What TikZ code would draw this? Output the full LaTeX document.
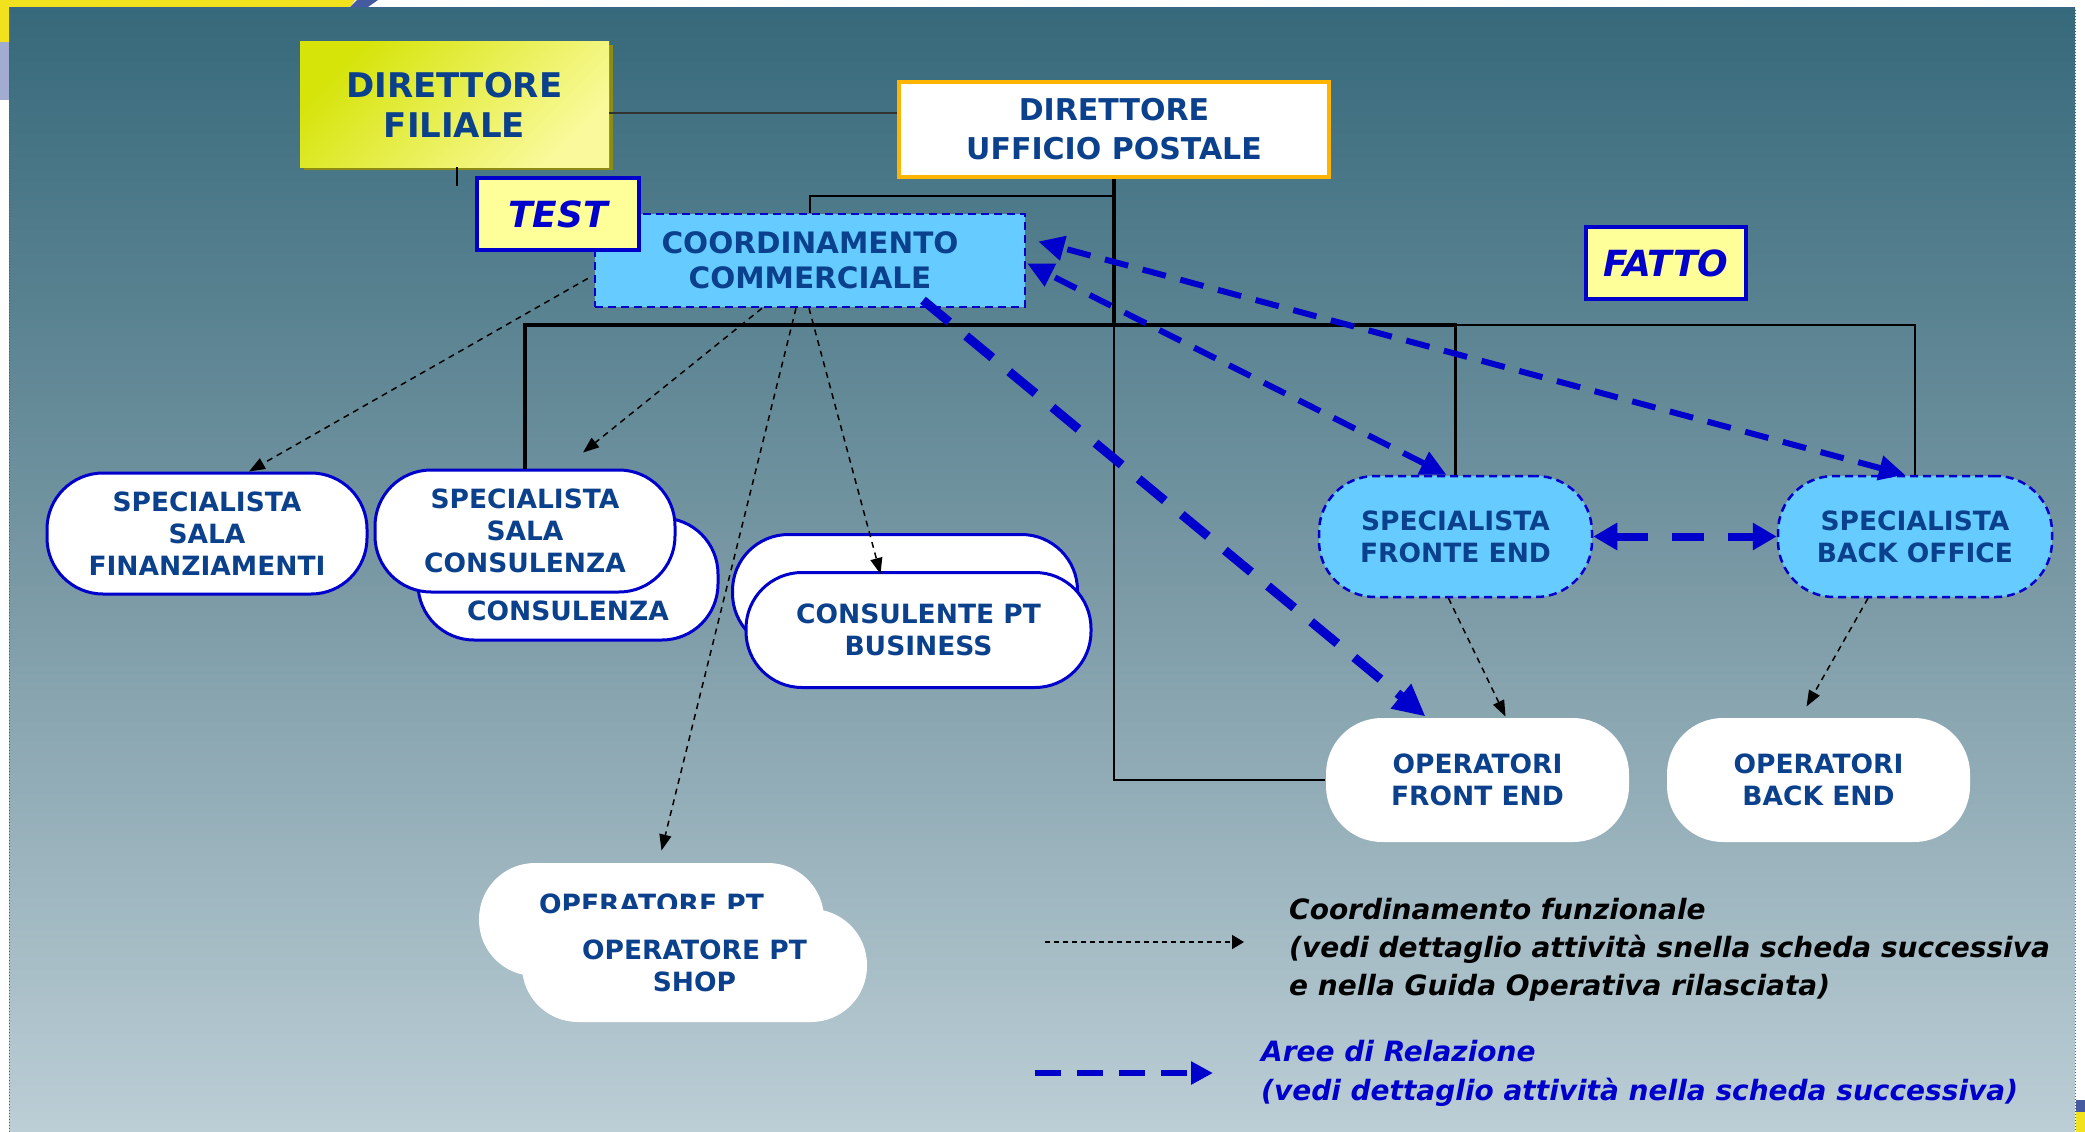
\documentclass[tikz,border=0pt]{standalone}
\usepackage{fontspec}
\setmainfont{DejaVu Sans}[BoldFont={DejaVu Sans Bold},ItalicFont={DejaVu Sans Oblique},BoldItalicFont={DejaVu Sans Bold Oblique}]
\usetikzlibrary{arrows.meta,calc,shadows}
\definecolor{txtblue}{RGB}{10,64,140}
\definecolor{lnblue}{RGB}{0,0,204}
\definecolor{cyanfill}{RGB}{102,204,255}
\definecolor{paleyel}{RGB}{255,255,153}
\definecolor{orangeb}{RGB}{255,180,0}
\definecolor{bgtop}{RGB}{54,105,123}
\definecolor{bgmid}{RGB}{120,152,164}
\definecolor{bgbot}{RGB}{188,206,214}
\definecolor{dfA}{RGB}{214,228,10}
\definecolor{dfB}{RGB}{250,250,156}
\definecolor{dfsh}{RGB}{140,140,20}
\definecolor{framey}{RGB}{242,226,30}
\definecolor{frameb}{RGB}{70,90,160}
\definecolor{darkln}{RGB}{50,50,50}
\newcommand\myfs[2]{\fontsize{#1}{#2}\selectfont}
\begin{document}
\begin{tikzpicture}[x=1pt,y=-1pt,
  base/.style={inner sep=0pt, align=center, text=txtblue},
  whitebox/.style={base, rectangle, rounded corners=56pt, fill=white, draw=lnblue, line width=3pt, font=\bfseries\myfs{26.5}{32}},
  whiteplain/.style={whitebox, draw=none},
  cyanbox/.style={whitebox, fill=cyanfill, dash pattern=on 8pt off 5pt, line width=2.5pt},
  tag/.style={base, rectangle, fill=paleyel, draw=lnblue, line width=4pt, text=lnblue, font=\bfseries\itshape\myfs{36}{40}},
  thickln/.style={line width=3.5pt, black},
  thinln/.style={line width=1.5pt, black},
  blacktip/.tip={Triangle[length=16pt,width=12pt]},
  bluetip/.tip={Triangle[length=26pt,width=24pt]},
  blackarr/.style={black, line width=1.5pt, dash pattern=on 6pt off 5pt, -blacktip},
  bluearr/.style={draw=lnblue, line width=6pt, dash pattern=on 24pt off 15pt},
]
\useasboundingbox (0,0) rectangle (2085,1132);
% background
\fill[white] (0,0) rectangle (2085,1132);
\shade[top color=bgtop, bottom color=bgbot, middle color=bgmid] (9,8) rectangle (2075,1132);
\draw[frameb, line width=1pt, dotted] (9,1132) -- (9,8) -- (2075,8) -- (2075,1132);
\fill[framey] (0,0) -- (355,0) -- (350,7) -- (9,7) -- (9,42) -- (0,42) -- cycle;
\fill[frameb] (357,0) -- (378,0) -- (368,7) -- (350,7) -- cycle;
\fill[frameb!50!white] (0,42) rectangle (9,100);
\fill[frameb] (2076,1100) rectangle (2085,1112);
\fill[framey] (2076,1112) rectangle (2085,1132);

% nodes
\node[base, rectangle, minimum width=309pt, minimum height=125pt,
  top color=dfA, bottom color=dfB, shading angle=45,
  general shadow={fill=dfsh, shadow xshift=4pt, shadow yshift=-3pt},
  font=\bfseries\myfs{34}{40}] (df) at (454.5,104.5) {DIRETTORE\\FILIALE};
\node[base, rectangle, fill=white, draw=orangeb, line width=4pt, minimum width=430pt, minimum height=95pt,
  font=\bfseries\myfs{30}{39}] (dup) at (1114,129.5) {DIRETTORE\\UFFICIO POSTALE};
\node[base, rectangle, fill=cyanfill, draw=lnblue, line width=2.5pt, dash pattern=on 8pt off 5pt,
  minimum width=430pt, minimum height=93pt, font=\bfseries\myfs{29.5}{35}] (coord) at (810,260.5) {COORDINAMENTO\\COMMERCIALE};
\node[tag, minimum width=162pt, minimum height=72pt] (test) at (558,214) {TEST};
\node[tag, minimum width=160pt, minimum height=72pt] (fatto) at (1666,263) {FATTO};

\node[whitebox, minimum width=320pt, minimum height=121pt] (salafin) at (207,533.5) {SPECIALISTA\\SALA\\FINANZIAMENTI};
\node[whitebox, minimum width=300pt, minimum height=122pt] (salaconsb) at (568,579) {\phantom{SPECIALISTA}\\\phantom{SALA}\\CONSULENZA};
\node[whitebox, minimum width=300pt, minimum height=122pt] (salacons) at (525,531) {SPECIALISTA\\SALA\\CONSULENZA};
\node[whitebox, minimum width=345pt, minimum height=115pt] (consb) at (905,592) {};
\node[whitebox, minimum width=345pt, minimum height=115pt] (consf) at (918.5,630) {CONSULENTE PT\\BUSINESS};
\node[whiteplain, minimum width=345pt, minimum height=113pt] (opsb) at (651.5,919.5) {OPERATORE PT\\\phantom{SHOP}};
\node[whiteplain, minimum width=345pt, minimum height=113pt] (opsf) at (694.5,965.5) {OPERATORE PT\\SHOP};
\node[cyanbox, minimum width=273pt, minimum height=121pt] (spf) at (1455.5,536.5) {SPECIALISTA\\FRONTE END};
\node[cyanbox, minimum width=274pt, minimum height=121pt] (spb) at (1915,536.5) {SPECIALISTA\\BACK OFFICE};
\node[whiteplain, minimum width=303pt, minimum height=124pt] (ofe) at (1477.5,780) {OPERATORI\\FRONT END};
\node[whiteplain, minimum width=303pt, minimum height=124pt] (obe) at (1818.5,780) {OPERATORI\\BACK END};

% hierarchy lines
\coordinate (yl) at (0,113);
\coordinate (bus) at (0,325);
\coordinate (ctl) at (0,196);
\coordinate (dfstub) at (457,186);
\draw[line width=1.5pt, darkln] (df.east |- yl) -- (dup.west |- yl);
\draw[thinln] (dfstub |- df.south) -- (dfstub);
\draw[thinln] (dup.south |- ctl) -| (coord.north);
\draw[thickln] (dup.south) -- (dup.south |- bus);
\draw[thickln] (salacons.north) |- (spf.north |- bus) -- (spf.north);
\draw[thinln] (spf.north |- bus) -| (spb.north);
\draw[thinln] (dup.south |- bus) |- (ofe.west);

% functional coordination (black dashed)
\draw[blackarr] ($(coord.west)+(-6,18)$) -- ($(salafin.north)+(42,0)$);
\draw[blackarr] ($(coord.south)+(-48,0)$) -- ($(salacons.north)+(58,-16)$);
\draw[blackarr] ($(coord.south)+(-14,0)$) -- ($(opsb.north)+(10,-11)$);
\draw[blackarr] ($(coord.south)+(-1,0)$) -- ($(consf.north)+(-38,3)$);
\draw[blackarr] ($(spf.south)+(-7,0)$) -- ($(ofe.north)+(28,0)$);
\draw[blackarr] ($(spb.south)+(-47,0)$) -- ($(obe.north)+(-12,-10)$);

% relation areas (blue dashed)
\draw[bluearr, line width=9pt, dash pattern=on 34pt off 22pt, -{Triangle[length=32pt,width=30pt]}] ($(coord.south)+(113,-8)$) -- ($(ofe.north)+(-52,0)$);
\draw[bluearr, bluetip-bluetip] ($(spf.north)+(-9,0)$) -- ($(coord.east)+(1,3)$);
\draw[bluearr, bluetip-bluetip] ($(spb.north)+(-10,0)$) -- ($(coord.east)+(12,-19)$);
\draw[bluearr, line width=8pt, dash pattern=on 32pt off 24pt, {Triangle[length=24pt,width=26pt]}-{Triangle[length=24pt,width=26pt]}] (spf.east) -- (spb.west);

% legend
\coordinate (la1) at (1045,942);
\coordinate (la2) at (1244,942);
\coordinate (lb1) at (1035,1073);
\coordinate (lb2) at (1213,1073);
\draw[black, line width=1.5pt, dash pattern=on 5pt off 4pt, -{Triangle[length=12pt,width=14pt]}] (la1) -- (la2);
\draw[bluearr, dash pattern=on 26pt off 16pt, -{Triangle[length=22pt,width=22pt]}] (lb1) -- (lb2);
\node[anchor=west, align=left, inner sep=0pt, text=black, font=\bfseries\itshape\myfs{28}{38}] (leg1) at (1289,950)
  {Coordinamento funzionale\\(vedi dettaglio attività snella scheda successiva\\e nella Guida Operativa rilasciata)};
\node[anchor=west, align=left, inner sep=0pt, text=lnblue, font=\bfseries\itshape\myfs{28}{39}] (leg2) at (1261,1073.5)
  {Aree di Relazione\\(vedi dettaglio attività nella scheda successiva)};
\end{tikzpicture}
\end{document}
